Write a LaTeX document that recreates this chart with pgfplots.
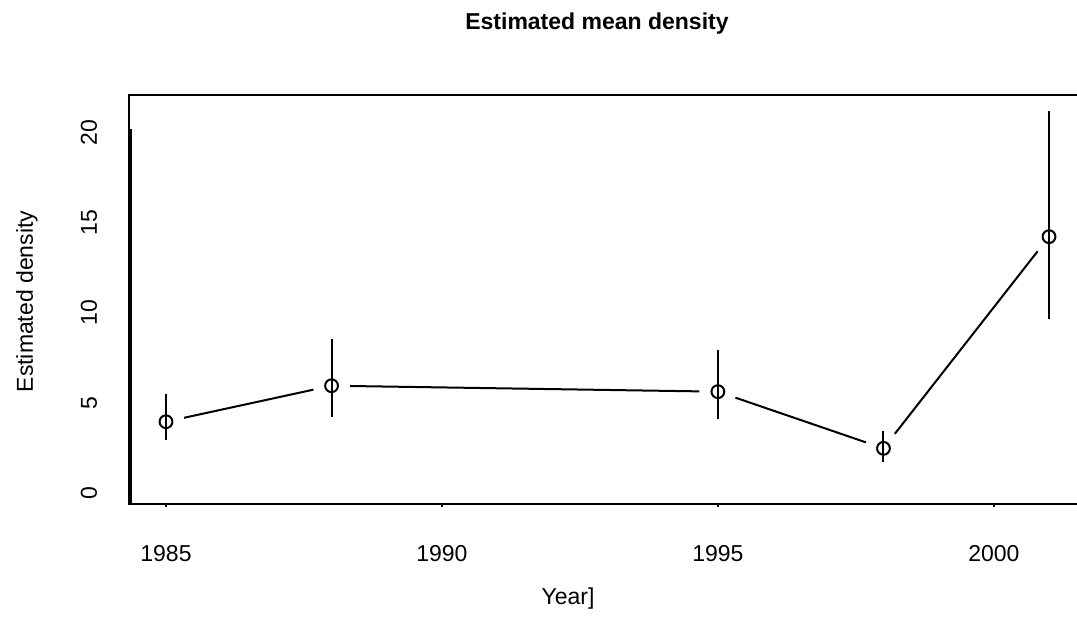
\documentclass[border=0pt]{standalone}
\usepackage{pgfplots}
\pgfplotsset{compat=1.18}
\usepackage{fontspec}
\setmainfont{Liberation Sans}
\begin{document}
\begin{tikzpicture}
\begin{axis}[
  at={(0,0)}, anchor=south west,
  scale only axis,
  width=478.5pt, height=204.5pt,
  xmin=1984.33, xmax=2001.67,
  ymin=-0.61, ymax=22.11,
  axis line style={line width=1pt},
  font=\fontsize{11.5}{13}\selectfont,
  xtick={1985,1990,1995,2000},
  xticklabels={1985,1990,1995,2000},
  ytick={0,5,10,15,20},
  yticklabels={0,5,10,15,20},
  tick align=outside,
  major tick length=1.5pt,
  every tick/.style={line width=1pt,black},
  xtick pos=bottom, ytick pos=left,
  ytick style={draw=none},
  xticklabel style={anchor=center, yshift=-23.5pt},
  yticklabel style={xshift=-18.5pt, rotate=90, anchor=center},
  title={\textbf{Estimated mean density}},
  title style={at={(axis description cs:0.489,1)}, anchor=center, yshift=29.5pt},
  xlabel={Year]},
  xlabel style={at={(axis description cs:0.4587,0)}, anchor=center, yshift=-47.5pt},
  ylabel={Estimated density},
  ylabel style={at={(axis description cs:0,0.495)}, anchor=center, yshift=51pt},
  clip=false,
]
% points with asymmetric error bars
\addplot[black, line width=1pt, only marks, mark=o, mark size=3.2pt,
  mark options={line width=1pt},
  error bars/.cd, y dir=both, y explicit, error mark=none,
  error bar style={line width=1pt}]
  table[x=x, y=y, y error plus=ep, y error minus=em] {
  x     y      ep    em
  1985  3.96   1.52  1.02
  1988  5.96   2.60  1.76
  1995  5.63   2.31  1.54
  1998  2.48   0.98  0.74
  2001  14.24  7.00  4.59
};
% connecting segments with gaps at the points
\addplot[black, line width=1pt, shorten <=9.25pt, shorten >=9.25pt] coordinates {(1985,3.96) (1988,5.96)};
\addplot[black, line width=1pt, shorten <=9.25pt, shorten >=9.25pt] coordinates {(1988,5.96) (1995,5.63)};
\addplot[black, line width=1pt, shorten <=9.25pt, shorten >=9.25pt] coordinates {(1995,5.63) (1998,2.48)};
\addplot[black, line width=1pt, shorten <=9.25pt, shorten >=9.25pt] coordinates {(1998,2.48) (2001,14.24)};
% vertical line near the left edge
\addplot[black, line width=1pt] coordinates {(1984.37,-0.61) (1984.37,20.2)};
\end{axis}
\pgfresetboundingbox
\useasboundingbox (-64.5pt,-57.5pt) rectangle (474pt,252pt);
\end{tikzpicture}
\end{document}
